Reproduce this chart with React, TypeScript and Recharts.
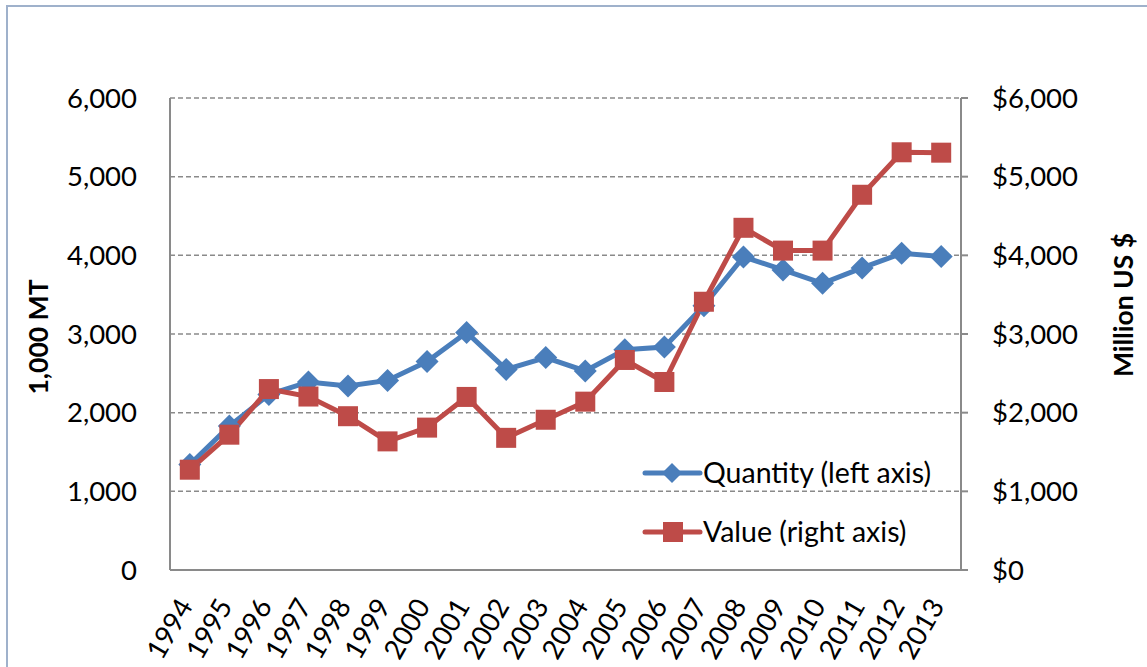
import { LineChart, Line, XAxis, YAxis, CartesianGrid, Legend } from "recharts";

// years on the category axis
const years = [
  "1994", "1995", "1996", "1997", "1998", "1999", "2000", "2001", "2002", "2003",
  "2004", "2005", "2006", "2007", "2008", "2009", "2010", "2011", "2012", "2013",
];

// 1,000 MT (left axis)
const quantity = [
  1340, 1830, 2230, 2390, 2340, 2410, 2650, 3020, 2550, 2700,
  2530, 2800, 2835, 3360, 3980, 3815, 3645, 3840, 4025, 3985,
];

// Million US $ (right axis)
const value = [
  1275, 1720, 2300, 2205, 1955, 1635, 1810, 2200, 1680, 1910,
  2140, 2670, 2390, 3410, 4350, 4060, 4060, 4770, 5310, 5305,
];

const axisTicks = [0, 1000, 2000, 3000, 4000, 5000, 6000];

const data = years.map((year, i) => ({ year, quantity: quantity[i], value: value[i] }));

const FONT = "Lato, 'Open Sans', sans-serif";
const BLUE = "#4a7ebb";
const RED = "#be4b48";
const GRID = "#8a8a8a";

const fmtLeft = (v: number) => v.toLocaleString("en-US");
const fmtRight = (v: number) => `$${v.toLocaleString("en-US")}`;

const diamondPath = (cx: number, cy: number, r: number) =>
  `M${cx},${cy - r}L${cx + r},${cy}L${cx},${cy + r}L${cx - r},${cy}Z`;

const renderDiamond = (p: any) => {
  if (p.cx == null || p.cy == null) return <g key={`d-${p.index}`} />;
  return <path key={`d-${p.index}`} d={diamondPath(p.cx, p.cy, 11.5)} fill={BLUE} />;
};

const renderSquare = (p: any) => {
  if (p.cx == null || p.cy == null) return <g key={`s-${p.index}`} />;
  return <rect key={`s-${p.index}`} x={p.cx - 10} y={p.cy - 10} width={20} height={20} fill={RED} />;
};

const YearTick = (props: any) => {
  const { x, y, payload } = props;
  const tx = x + 4;
  const ty = y + 36;
  return (
    <text
      x={tx}
      y={ty}
      transform={`rotate(-60, ${tx}, ${ty})`}
      textAnchor="end"
      fontSize={27.5}
      fontFamily={FONT}
      fill="#000"
    >
      {payload.value}
    </text>
  );
};

const renderLegend = () => (
  <svg width={340} height={110} style={{ display: "block" }}>
    <line x1={5} y1={23} x2={60} y2={23} stroke={BLUE} strokeWidth={5} strokeLinecap="round" />
    <path d={diamondPath(32, 23, 10)} fill={BLUE} />
    <text x={63} y={23} dy="0.35em" fontSize={28.5} fontFamily={FONT} fill="#000">
      Quantity (left axis)
    </text>
    <line x1={5} y1={82} x2={60} y2={82} stroke={RED} strokeWidth={5} strokeLinecap="round" />
    <rect x={23} y={72} width={20} height={20} fill={RED} />
    <text x={63} y={82} dy="0.35em" fontSize={28.5} fontFamily={FONT} fill="#000">
      Value (right axis)
    </text>
  </svg>
);

const App = () => {
  return (
    <div
      style={{
        position: "absolute",
        left: 0,
        top: 0,
        width: 1147,
        height: 667,
        overflow: "hidden",
        background: "#fff",
      }}
    >
      <div
        style={{
          position: "absolute",
          left: 6,
          top: 5,
          width: 1200,
          height: 700,
          borderTop: "2px solid #9fb1cb",
          borderLeft: "2px solid #9fb1cb",
        }}
      />
      <LineChart
        width={1147}
        height={667}
        data={data}
        margin={{ top: 98, right: 0, bottom: 0, left: 0 }}
      >
        <CartesianGrid
          yAxisId="left"
          vertical={false}
          stroke={GRID}
          strokeDasharray="5 3"
          strokeWidth={1.5}
        />
        <XAxis
          dataKey="year"
          height={97}
          interval={0}
          tickLine={false}
          tickSize={0}
          tickMargin={0}
          padding={{ left: 19.8, right: 19.8 }}
          axisLine={{ stroke: GRID, strokeWidth: 2 }}
          tick={<YearTick />}
        />
        <YAxis
          yAxisId="left"
          width={170}
          domain={[0, 6000]}
          ticks={axisTicks}
          interval={0}
          tickFormatter={fmtLeft}
          tickLine={false}
          tickSize={6}
          tickMargin={27}
          axisLine={{ stroke: GRID, strokeWidth: 2 }}
          tick={{ fontSize: 27.5, fontFamily: FONT, fill: "#000" }}
          label={() => (
            <text
              x={38}
              y={337}
              transform="rotate(-90, 38, 337)"
              textAnchor="middle"
              dominantBaseline="central"
              fontSize={26.5}
              fontWeight="bold"
              fontFamily={FONT}
              fill="#000"
            >
              1,000 MT
            </text>
          )}
        />
        <YAxis
          yAxisId="right"
          orientation="right"
          width={186}
          domain={[0, 6000]}
          ticks={axisTicks}
          interval={0}
          tickFormatter={fmtRight}
          tickSize={7}
          tickMargin={24}
          tickLine={{ stroke: GRID, strokeWidth: 2 }}
          axisLine={{ stroke: GRID, strokeWidth: 2 }}
          tick={{ fontSize: 27.5, fontFamily: FONT, fill: "#000" }}
          label={() => (
            <text
              x={1123}
              y={305}
              transform="rotate(-90, 1123, 305)"
              textAnchor="middle"
              dominantBaseline="central"
              fontSize={26.5}
              fontWeight="bold"
              fontFamily={FONT}
              fill="#000"
            >
              Million US $
            </text>
          )}
        />
        <Legend
          layout="vertical"
          align="center"
          verticalAlign="middle"
          content={renderLegend}
          wrapperStyle={{ left: 640, top: 450, width: 340, height: 110 }}
        />
        <Line
          yAxisId="left"
          type="linear"
          dataKey="quantity"
          name="Quantity (left axis)"
          stroke={BLUE}
          strokeWidth={5}
          dot={renderDiamond}
          activeDot={false}
          isAnimationActive={false}
        />
        <Line
          yAxisId="right"
          type="linear"
          dataKey="value"
          name="Value (right axis)"
          stroke={RED}
          strokeWidth={5}
          dot={renderSquare}
          activeDot={false}
          isAnimationActive={false}
        />
      </LineChart>
    </div>
  );
};

export default App;
